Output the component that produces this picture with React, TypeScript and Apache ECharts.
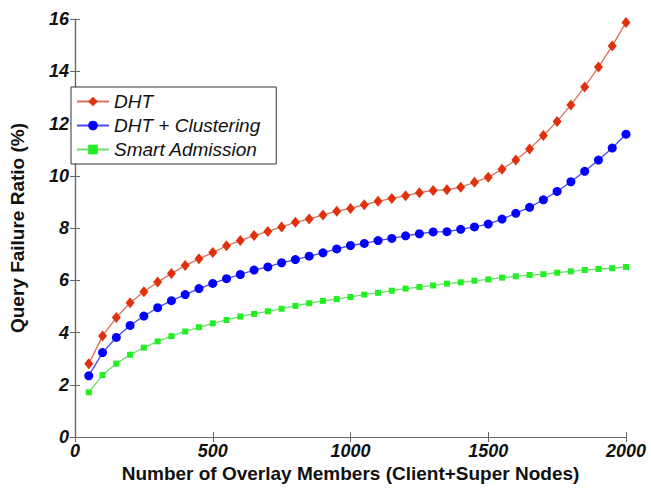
import React, { useEffect, useRef } from "react";
import * as echarts from "echarts";

// Network size (number of overlay members) for every sample
const members = [
  50, 100, 150, 200, 250, 300, 350, 400, 450, 500,
  550, 600, 650, 700, 750, 800, 850, 900, 950, 1000,
  1050, 1100, 1150, 1200, 1250, 1300, 1350, 1400, 1450, 1500,
  1550, 1600, 1650, 1700, 1750, 1800, 1850, 1900, 1950, 2000,
];

// Query failure ratio (%) per scheme
const dht = [
  2.8, 3.87, 4.57, 5.14, 5.56, 5.93, 6.26, 6.56, 6.82, 7.06,
  7.32, 7.52, 7.71, 7.87, 8.04, 8.22, 8.34, 8.5, 8.64, 8.75,
  8.89, 9.02, 9.13, 9.23, 9.35, 9.44, 9.46, 9.56, 9.75, 9.94,
  10.25, 10.6, 11.02, 11.54, 12.08, 12.71, 13.4, 14.16, 14.97, 15.87,
];
const dhtClustering = [
  2.34, 3.23, 3.81, 4.27, 4.63, 4.95, 5.22, 5.45, 5.68, 5.88,
  6.06, 6.22, 6.39, 6.51, 6.67, 6.79, 6.92, 7.05, 7.2, 7.33,
  7.41, 7.52, 7.6, 7.7, 7.78, 7.85, 7.86, 7.95, 8.04, 8.15,
  8.34, 8.56, 8.79, 9.08, 9.4, 9.77, 10.17, 10.6, 11.06, 11.59,
];
const smartAdmission = [
  1.71, 2.37, 2.81, 3.15, 3.42, 3.66, 3.86, 4.04, 4.2, 4.35,
  4.48, 4.61, 4.71, 4.81, 4.91, 5.02, 5.12, 5.21, 5.28, 5.36,
  5.45, 5.52, 5.6, 5.68, 5.74, 5.8, 5.87, 5.92, 5.98, 6.03,
  6.1, 6.15, 6.2, 6.23, 6.29, 6.34, 6.39, 6.43, 6.46, 6.51,
];

const seriesNames = ["DHT", "DHT + Clustering", "Smart Admission"];

const FONT = "'Liberation Sans', Arial, sans-serif";
const AXIS_COLOR = "#666666";

const pairs = (ys: number[]) => members.map((x, i) => [x, ys[i]]);

export default function App() {
  const ref = useRef<HTMLDivElement>(null);

  useEffect(() => {
    if (!ref.current) return;
    const chart = echarts.init(ref.current, undefined, { renderer: "svg" });

    const tickLabel = {
      fontFamily: FONT,
      fontSize: 18,
      fontWeight: "bold" as const,
      fontStyle: "italic" as const,
      color: "#111",
      formatter: (v: number) => String(v),
    };
    const axisName = {
      fontFamily: FONT,
      fontSize: 19,
      fontWeight: "bold" as const,
      color: "#111",
    };
    const axisLine = { show: true, lineStyle: { color: AXIS_COLOR, width: 1.2 } };
    const axisTick = { show: true, inside: true, length: 5, lineStyle: { color: AXIS_COLOR } };

    chart.setOption({
      animation: false,
      backgroundColor: "#ffffff",
      grid: { left: 67, right: 25, top: 19, bottom: 49, containLabel: false },
      legend: {
        orient: "vertical",
        left: 71,
        top: 87,
        data: seriesNames,
        backgroundColor: "#ffffff",
        borderColor: "#333333",
        borderWidth: 1,
        padding: [5, 16, 5, 5],
        itemWidth: 32,
        itemHeight: 12,
        itemGap: 5,
        textStyle: {
          fontFamily: FONT,
          fontSize: 19,
          fontStyle: "italic",
          color: "#111",
        },
      },
      xAxis: [
        {
          type: "value",
          min: 0,
          max: 2000,
          interval: 500,
          position: "bottom",
          name: "Number of Overlay Members (Client+Super Nodes)",
          nameLocation: "middle",
          nameGap: 27,
          nameMoveOverlap: false,
          nameTextStyle: axisName,
          axisLine,
          axisTick,
          axisLabel: { ...tickLabel, margin: 5 },
          splitLine: { show: false },
        },
        {
          type: "value",
          min: 0,
          max: 2000,
          interval: 500,
          position: "top",
          axisLine,
          axisTick,
          axisLabel: { show: false },
          splitLine: { show: false },
        },
      ],
      yAxis: [
        {
          type: "value",
          min: 0,
          max: 16,
          interval: 2,
          position: "left",
          name: "Query Failure Ratio (%)",
          nameLocation: "middle",
          nameGap: 48,
          nameMoveOverlap: false,
          nameRotate: 90,
          nameTextStyle: axisName,
          axisLine,
          axisTick,
          axisLabel: { ...tickLabel, margin: 6 },
          splitLine: { show: false },
        },
        {
          type: "value",
          min: 0,
          max: 16,
          interval: 2,
          position: "right",
          axisLine,
          axisTick,
          axisLabel: { show: false },
          splitLine: { show: false },
        },
      ],
      series: [
        {
          name: seriesNames[0],
          type: "line",
          data: pairs(dht),
          symbol: "diamond",
          symbolSize: [9, 11],
          itemStyle: { color: "#e0300c" },
          lineStyle: { color: "#d8705a", width: 1.3 },
        },
        {
          name: seriesNames[1],
          type: "line",
          data: pairs(dhtClustering),
          symbol: "circle",
          symbolSize: 9,
          itemStyle: { color: "#0000ff" },
          lineStyle: { color: "#4a4af0", width: 1.3 },
        },
        {
          name: seriesNames[2],
          type: "line",
          data: pairs(smartAdmission),
          symbol: "rect",
          symbolSize: 6,
          itemStyle: { color: "#22ee22" },
          lineStyle: { color: "#6ae06a", width: 1.3 },
        },
      ],
    });

    return () => chart.dispose();
  }, []);

  return (
    <div
      ref={ref}
      style={{ position: "absolute", left: 0, top: 0, width: 651, height: 488 }}
    />
  );
}
